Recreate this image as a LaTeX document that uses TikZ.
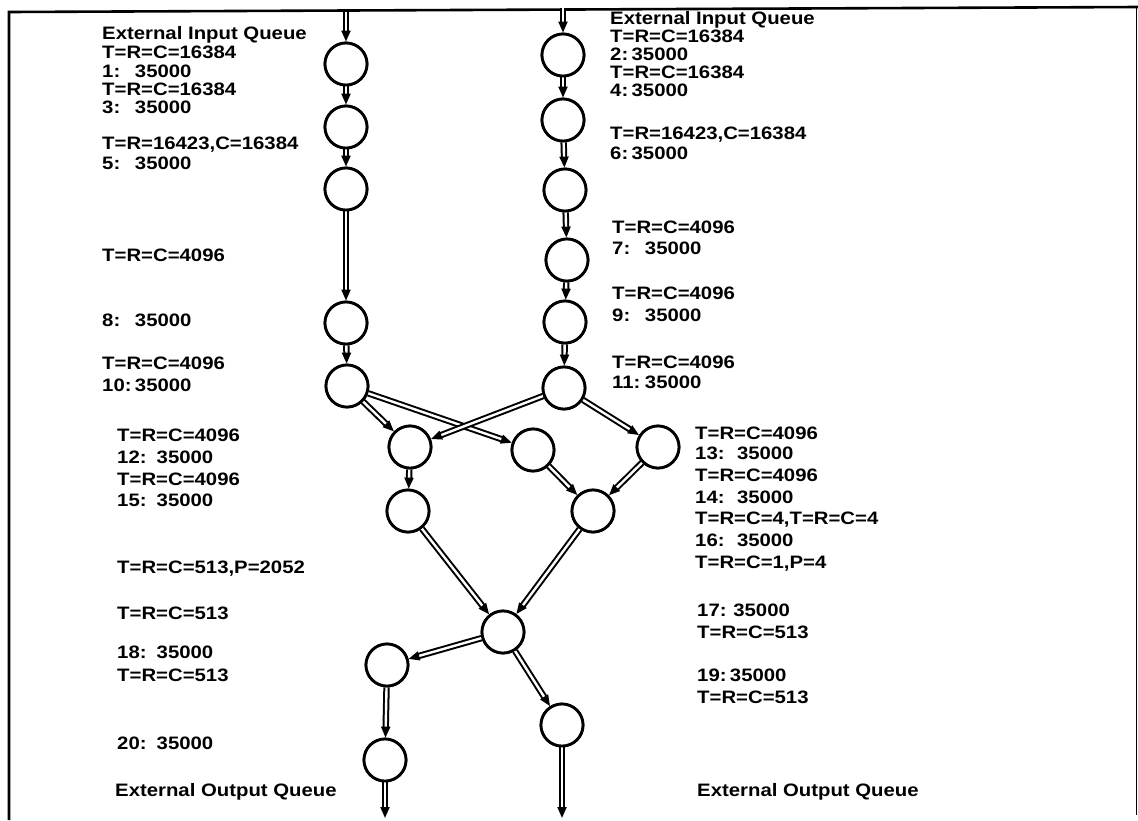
\documentclass[tikz,border=0pt]{standalone}
\usepackage{fontspec}
\setmainfont{Liberation Sans}
\usetikzlibrary{arrows.meta}
\newcommand{\wide}[1]{\scalebox{1.13}[1]{#1}}
\begin{document}
\begin{tikzpicture}[x=1pt,y=-1pt,
  station/.style={circle,draw,line width=2.8pt,minimum size=42pt,inner sep=0pt,fill=white},
  flow/.style={double,double distance=2.4pt,line width=2pt,-{Triangle[length=11pt,width=9pt]}},
  lbl/.style={anchor=west,inner sep=0pt,text height=13pt,text depth=0pt,font=\bfseries\fontsize{18}{18}\selectfont}]
\useasboundingbox (0,0) rectangle (1138,820);
% frame
\draw[line width=2.6pt] (9,820) -- (9,12) -- (1138,7);
\draw[line width=1pt] (1136,7) -- (1136,815);
% stations
\node[station] (L1) at (346,64) {};
\node[station] (L2) at (346,127) {};
\node[station] (L3) at (346,189) {};
\node[station] (L4) at (346,323) {};
\node[station] (L5) at (347,386) {};
\node[station] (R1) at (563,55) {};
\node[station] (R2) at (563,120) {};
\node[station] (R3) at (565,190) {};
\node[station] (R4) at (567,260) {};
\node[station] (R5) at (565,322) {};
\node[station] (R6) at (564,388) {};
\node[station] (A) at (410,447) {};
\node[station] (B) at (533,450) {};
\node[station] (C) at (658,447) {};
\node[station] (D) at (408,511) {};
\node[station] (E) at (593,511) {};
\node[station] (F) at (503,632) {};
\node[station] (G) at (387,665) {};
\node[station] (H) at (562,725) {};
\node[station] (I) at (385,760) {};
\coordinate (inL) at (346,12);
\coordinate (inR) at (563,8);
\coordinate (outI) at (385,818);
\coordinate (outH) at (562,818);
% connectors
\draw[flow] (inL) -- (L1);
\draw[flow] (L1) -- (L2);
\draw[flow] (L2) -- (L3);
\draw[flow] (L3) -- (L4);
\draw[flow] (L4) -- (L5);
\draw[flow] (inR) -- (R1);
\draw[flow] (R1) -- (R2);
\draw[flow] (R2) -- (R3);
\draw[flow] (R3) -- (R4);
\draw[flow] (R4) -- (R5);
\draw[flow] (R5) -- (R6);
\draw[flow] (L5) -- (A);
\draw[flow] (L5) -- (B);
\draw[flow] (R6) -- (A);
\draw[flow] (R6) -- (C);
\draw[flow] (A) -- (D);
\draw[flow] (B) -- (E);
\draw[flow] (C) -- (E);
\draw[flow] (D) -- (F);
\draw[flow] (E) -- (F);
\draw[flow] (F) -- (G);
\draw[flow] (F) -- (H);
\draw[flow] (G) -- (I);
\draw[flow] (I) -- (outI);
\draw[flow] (H) -- (outH);
% redraw stations on top
\foreach \n in {L1,L2,L3,L4,L5,R1,R2,R3,R4,R5,R6,A,B,C,D,E,F,G,H,I}
  \draw[line width=2.8pt,fill=white] (\n) circle (21pt);
% left labels
\node[lbl] (a1) at (102,33) {\wide{External Input Queue}};
\node[lbl] (a2) at (102,52) {\wide{T=R=C=16384}};
\node[lbl] (a3) at (102,71) {\wide{\makebox[29pt][l]{1:}35000}};
\node[lbl] (a4) at (102,89) {\wide{T=R=C=16384}};
\node[lbl] (a5) at (102,107) {\wide{\makebox[29pt][l]{3:}35000}};
\node[lbl] (a6) at (102,143) {\wide{T=R=16423,C=16384}};
\node[lbl] (a7) at (102,163) {\wide{\makebox[29pt][l]{5:}35000}};
\node[lbl] (a8) at (102,255) {\wide{T=R=C=4096}};
\node[lbl] (a9) at (102,320) {\wide{\makebox[29pt][l]{8:}35000}};
\node[lbl] (a10) at (102,363) {\wide{T=R=C=4096}};
\node[lbl] (a11) at (102,385) {\wide{\makebox[29pt][l]{10:}35000}};
\node[lbl] (b1) at (117,435) {\wide{T=R=C=4096}};
\node[lbl] (b2) at (117,457) {\wide{\makebox[35pt][l]{12:}35000}};
\node[lbl] (b3) at (117,479) {\wide{T=R=C=4096}};
\node[lbl] (b4) at (117,500) {\wide{\makebox[35pt][l]{15:}35000}};
\node[lbl] (b5) at (117,567) {\wide{T=R=C=513,P=2052}};
\node[lbl] (b6) at (117,613) {\wide{T=R=C=513}};
\node[lbl] (b7) at (117,652) {\wide{\makebox[35pt][l]{18:}35000}};
\node[lbl] (b8) at (117,675) {\wide{T=R=C=513}};
\node[lbl] (b9) at (117,743) {\wide{\makebox[35pt][l]{20:}35000}};
\node[lbl] (b10) at (115,790) {\wide{External Output Queue}};
% right labels
\node[lbl] (c1) at (610,18) {\wide{External Input Queue}};
\node[lbl] (c2) at (610,36) {\wide{T=R=C=16384}};
\node[lbl] (c3) at (610,54) {\wide{\makebox[19pt][l]{2:}35000}};
\node[lbl] (c4) at (610,72) {\wide{T=R=C=16384}};
\node[lbl] (c5) at (610,90) {\wide{\makebox[19pt][l]{4:}35000}};
\node[lbl] (c6) at (610,133) {\wide{T=R=16423,C=16384}};
\node[lbl] (c7) at (610,153) {\wide{\makebox[19pt][l]{6:}35000}};
\node[lbl] (c8) at (612,227) {\wide{T=R=C=4096}};
\node[lbl] (c9) at (612,248) {\wide{\makebox[29pt][l]{7:}35000}};
\node[lbl] (c10) at (612,293) {\wide{T=R=C=4096}};
\node[lbl] (c11) at (612,315) {\wide{\makebox[29pt][l]{9:}35000}};
\node[lbl] (c12) at (612,362) {\wide{T=R=C=4096}};
\node[lbl] (c13) at (612,382) {\wide{\makebox[29pt][l]{11:}35000}};
\node[lbl] (d1) at (695,433) {\wide{T=R=C=4096}};
\node[lbl] (d2) at (695,453) {\wide{\makebox[37pt][l]{13:}35000}};
\node[lbl] (d3) at (695,475) {\wide{T=R=C=4096}};
\node[lbl] (d4) at (695,497) {\wide{\makebox[37pt][l]{14:}35000}};
\node[lbl] (d5) at (695,518) {\wide{T=R=C=4,T=R=C=4}};
\node[lbl] (d6) at (695,540) {\wide{\makebox[37pt][l]{16:}35000}};
\node[lbl] (d7) at (695,562) {\wide{T=R=C=1,P=4}};
\node[lbl] (e1) at (697,610) {\wide{\makebox[32pt][l]{17:}35000}};
\node[lbl] (e2) at (697,632) {\wide{T=R=C=513}};
\node[lbl] (e3) at (697,675) {\wide{\makebox[29pt][l]{19:}35000}};
\node[lbl] (e4) at (697,697) {\wide{T=R=C=513}};
\node[lbl] (e5) at (697,790) {\wide{External Output Queue}};
\end{tikzpicture}
\end{document}
